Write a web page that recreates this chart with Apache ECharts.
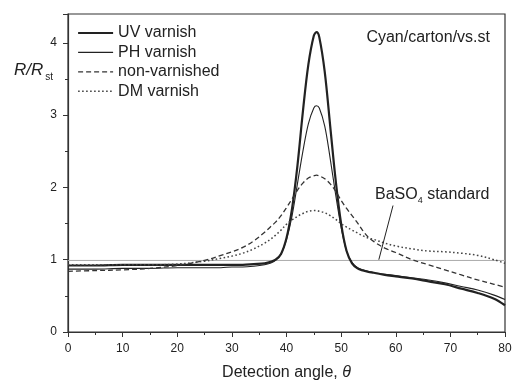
<!DOCTYPE html>
<html>
<head>
<meta charset="utf-8">
<script src="https://cdn.jsdelivr.net/npm/echarts@6/dist/echarts.min.js"></script>
<style>
  html, body { margin: 0; padding: 0; background: #fff; }
  #chart { width: 514px; height: 380px; }
</style>
</head>
<body>
<div id="chart"></div>
<script>
// Detection angle (degrees) shared by the four measured curves
const angles = [0, 5, 10, 15, 20, 25, 28, 30, 32, 34, 36, 37, 38, 39, 40, 41, 42, 43, 44, 45, 45.5,
  46, 47, 48, 49, 50, 51, 52, 53, 54, 55, 56, 58, 60, 63, 66, 69, 72, 75, 78, 80];

// Relative reflectance R/R_st for each sample
const uvVarnish = [0.92, 0.92, 0.93, 0.93, 0.93, 0.93, 0.93, 0.93, 0.93, 0.94, 0.95, 0.97, 1.0, 1.08, 1.3, 1.7, 2.3, 3.05, 3.7, 4.1, 4.15,
  4.08, 3.6, 2.85, 2.1, 1.5, 1.12, 0.95, 0.88, 0.85, 0.83, 0.82, 0.79, 0.77, 0.74, 0.7, 0.66, 0.6, 0.54, 0.46, 0.37];
const phVarnish = [0.87, 0.87, 0.88, 0.88, 0.89, 0.89, 0.89, 0.9, 0.9, 0.91, 0.93, 0.95, 0.99, 1.08, 1.28, 1.6, 2.05, 2.5, 2.88, 3.1, 3.13,
  3.1, 2.85, 2.4, 1.9, 1.45, 1.12, 0.96, 0.89, 0.86, 0.84, 0.82, 0.8, 0.78, 0.75, 0.72, 0.68, 0.63, 0.58, 0.51, 0.45];
const nonVarnished = [0.84, 0.85, 0.86, 0.88, 0.92, 0.99, 1.06, 1.11, 1.17, 1.26, 1.38, 1.45, 1.52, 1.61, 1.72, 1.84, 1.96, 2.06, 2.13, 2.16, 2.17,
  2.16, 2.12, 2.05, 1.95, 1.82, 1.71, 1.61, 1.51, 1.4, 1.31, 1.25, 1.16, 1.1, 1.0, 0.93, 0.86, 0.79, 0.72, 0.66, 0.62];
const dmVarnish = [0.93, 0.93, 0.93, 0.93, 0.94, 0.98, 1.02, 1.05, 1.09, 1.15, 1.23, 1.28, 1.34, 1.41, 1.49, 1.55, 1.6, 1.64, 1.67, 1.68, 1.68,
  1.67, 1.65, 1.61, 1.56, 1.5, 1.45, 1.41, 1.37, 1.33, 1.3, 1.28, 1.23, 1.19, 1.15, 1.12, 1.11, 1.09, 1.06, 1.0, 0.95];

// BaSO4 reference level
const stdAngles = [0, 80];
const stdValues = [0.99, 0.99];

// Leader from the "BaSO4 standard" note down to the reference line
const leaderAngles = [56.9, 59.5];
const leaderValues = [1.0, 1.75];

const xTicks = { min: 0, max: 80, step: 10 };
const yTicks = { min: 0, max: 4.4, step: 1 };

const FONT = '"Liberation Sans", Arial, sans-serif';
const INK = '#222';

const pairs = (xs, ys) => xs.map((x, i) => [x, ys[i]]);

const chart = echarts.init(document.getElementById('chart'));

// Line look of each sample: [name, values, width, dash, colour]
const samples = [
  ['UV varnish', uvVarnish, 2.2, 'solid', INK],
  ['PH varnish', phVarnish, 1.1, 'solid', INK],
  ['non-varnished', nonVarnished, 1.3, [5, 3], '#333'],
  ['DM varnish', dmVarnish, 1.5, [1.6, 2.4], '#444']
];

function curve([name, values, width, type, color]) {
  return {
    name: name,
    type: 'line',
    data: pairs(angles, values),
    symbol: 'none',
    smooth: 0.35,
    lineStyle: { color: color, width: width, type: type },
    itemStyle: { color: color },
    z: 3
  };
}

chart.setOption({
  animation: false,
  backgroundColor: '#fff',
  grid: {
    left: 68, right: 9, top: 14, bottom: 48,
    outerBoundsMode: 'none',
    containLabel: false,
    show: true, borderColor: '#333', borderWidth: 1.2
  },
  xAxis: {
    type: 'value',
    min: xTicks.min, max: xTicks.max, interval: xTicks.step,
    name: '{t|Detection angle, }{i|θ}',
    nameLocation: 'middle',
    nameGap: 33,
    nameTextStyle: {
      rich: {
        t: { fontFamily: FONT, fontSize: 16, color: INK },
        i: { fontFamily: FONT, fontSize: 16, fontStyle: 'italic', color: INK }
      }
    },
    axisLine: { lineStyle: { color: '#333', width: 1.2 } },
    axisTick: { length: 5, lineStyle: { color: '#333' } },
    minorTick: { show: true, splitNumber: 2, length: 3, lineStyle: { color: '#333' } },
    axisLabel: { fontFamily: FONT, fontSize: 12, color: INK, margin: 11 },
    splitLine: { show: false }
  },
  yAxis: {
    type: 'value',
    min: yTicks.min, max: yTicks.max, interval: yTicks.step,
    axisLine: { show: true, lineStyle: { color: '#333', width: 1.2 } },
    axisTick: { show: true, length: 5, lineStyle: { color: '#333' } },
    minorTick: { show: true, splitNumber: 2, length: 3, lineStyle: { color: '#333' } },
    axisLabel: {
      fontFamily: FONT, fontSize: 12, color: INK, margin: 11,
      showMaxLabel: false,
      formatter: v => (Number.isInteger(v) ? String(v) : '')
    },
    splitLine: { show: false }
  },
  legend: {
    orient: 'vertical',
    left: 77, top: 25,
    padding: 0,
    itemWidth: 35, itemHeight: 10, itemGap: 3.4,
    itemStyle: { color: 'transparent', borderColor: 'transparent', borderWidth: 0 },
    textStyle: { fontFamily: FONT, fontSize: 16, color: INK, lineHeight: 16 },
    data: samples.map(s => ({
      name: s[0],
      lineStyle: { color: s[4], width: s[2], type: s[3] }
    }))
  },
  series: samples.map(curve).concat([
    {
      name: 'BaSO4 standard',
      type: 'line',
      data: pairs(stdAngles, stdValues),
      symbol: 'none',
      lineStyle: { color: '#aaa', width: 1 },
      z: 2,
      markLine: {
        silent: true,
        symbol: ['none', 'none'],
        label: { show: false },
        lineStyle: { color: INK, width: 1, type: 'solid' },
        data: [[
          { coord: [leaderAngles[0], leaderValues[0]] },
          { coord: [leaderAngles[1], leaderValues[1]] }
        ]]
      }
    }
  ]),
  graphic: [
    {
      type: 'text', left: 14, top: 62,
      style: {
        text: '{r|R/R}{s|st}',
        rich: {
          r: { fontFamily: FONT, fontSize: 17, fontStyle: 'italic', fill: INK },
          s: { fontFamily: FONT, fontSize: 10, fill: INK, padding: [14, 0, 0, 2] }
        }
      }
    },
    {
      type: 'text', right: 24, top: 30,
      style: { text: 'Cyan/carton/vs.st', fontFamily: FONT, fontSize: 16, fill: INK }
    },
    {
      type: 'text', left: 375, top: 187,
      style: {
        text: '{a|BaSO}{s|4}{a| standard}',
        rich: {
          a: { fontFamily: FONT, fontSize: 16, fill: INK },
          s: { fontFamily: FONT, fontSize: 9, fill: INK, padding: [11, 0, 0, 0] }
        }
      }
    }
  ]
});
</script>
</body>
</html>
